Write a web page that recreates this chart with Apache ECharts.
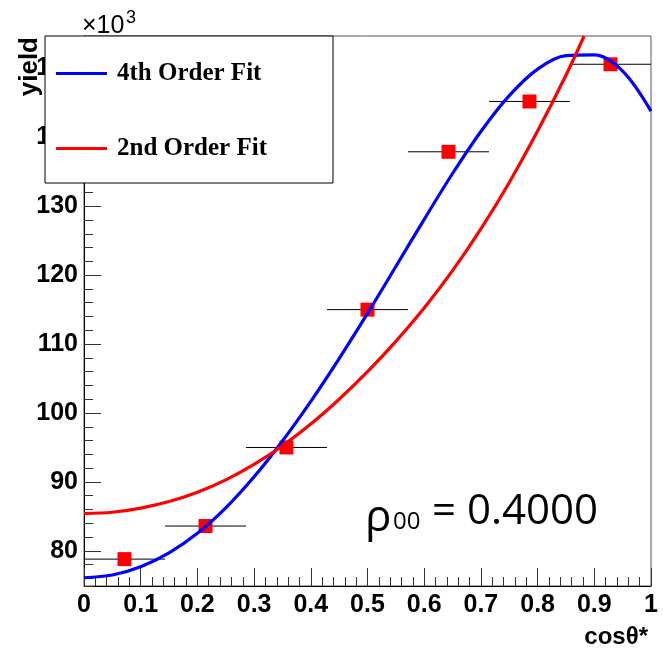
<!DOCTYPE html>
<html><head><meta charset="utf-8">
<script src="https://cdn.jsdelivr.net/npm/echarts@6/dist/echarts.min.js"></script>
<style>html,body{margin:0;padding:0;background:#fff}#c{width:663px;height:656px}</style>
</head><body><div id="c"></div>
<script>
// Data (yield in units of 10^3)
const binCenters = [0.0714, 0.2143, 0.3571, 0.5, 0.6429, 0.7857, 0.9286];
const binLow     = [0, 0.1429, 0.2857, 0.4286, 0.5714, 0.7143, 0.8571];
const binHigh    = [0.1429, 0.2857, 0.4286, 0.5714, 0.7143, 0.8571, 1.0];
const yieldValues = [78.8, 83.6, 95.0, 115.0, 137.9, 145.2, 150.6];

// Fit curves
const fit4X = [0, 0.05, 0.1, 0.15, 0.2, 0.25, 0.3, 0.35, 0.4, 0.45, 0.5, 0.55, 0.6, 0.65, 0.7, 0.75, 0.8, 0.85, 0.9, 0.95, 1.0];
const fit4Y = [76.1, 76.5, 77.7, 79.7, 82.55, 86.25, 90.75, 95.95, 101.7, 107.9, 114.45, 121.25, 128.1, 134.75, 140.85, 146.05, 149.9, 151.85, 151.95, 149.6, 143.8];

const fit2X = [0, 0.05, 0.1, 0.15, 0.2, 0.25, 0.3, 0.35, 0.4, 0.45, 0.5, 0.55, 0.6, 0.65, 0.7, 0.75, 0.8, 0.85, 0.882];
const fit2Y = [85.4, 85.6, 86.2, 87.15, 88.5, 90.3, 92.55, 95.25, 98.4, 102.0, 106.0, 110.4, 115.25, 120.65, 126.7, 133.45, 140.9, 149.0, 154.7];

const seriesNames = ['4th Order Fit', '2nd Order Fit'];
const xTitle = 'cosθ*';
const yTitle = 'yield';
const rhoValue = '0.4000';

const yMin = 74.9, yMax = 154.7;

const chart = echarts.init(document.getElementById('c'), null, {renderer: 'canvas'});
const labelFont = {fontFamily: 'Liberation Sans', fontWeight: 'bold', fontSize: 25, color: '#000'};

chart.setOption({
  animation: false,
  backgroundColor: '#fff',
  grid: {left: 84, right: 12, top: 36, bottom: 70, containLabel: false, outerBoundsMode: 'none',
         show: true, borderColor: '#555', borderWidth: 1, backgroundColor: 'transparent'},
  legend: {
    show: true, left: 45, top: 36, orient: 'vertical', data: seriesNames,
    icon: 'rect', itemWidth: 51, itemHeight: 3, itemGap: 50, padding: [25, 66, 22, 11],
    backgroundColor: '#fff', borderColor: '#000', borderWidth: 1, borderRadius: 0,
    selectedMode: false, z: 10,
    textStyle: {fontFamily: 'Liberation Serif', fontWeight: 'bold', fontSize: 25, color: '#000', padding: [0, 0, 0, 5]}
  },
  xAxis: {
    type: 'value', min: 0, max: 1, interval: 0.1,
    axisLine: {show: true, onZero: false, lineStyle: {color: '#000', width: 1}},
    axisTick: {show: true, inside: true, length: 18, lineStyle: {color: '#333'}},
    minorTick: {show: true, splitNumber: 5, length: 9, lineStyle: {color: '#333'}},
    splitLine: {show: false}, minorSplitLine: {show: false},
    axisLabel: Object.assign({margin: 7}, labelFont),
    name: xTitle, nameLocation: 'end', nameGap: -3,
    nameTextStyle: {align: 'right', verticalAlign: 'top', padding: [39, 0, 0, 0],
      fontFamily: 'Liberation Sans', fontWeight: 'bold', fontSize: 24, color: '#000'}
  },
  yAxis: [
    {
      type: 'value', position: 'left', min: yMin, max: yMax, minInterval: 10, maxInterval: 10,
      axisLine: {show: true, onZero: false, lineStyle: {color: '#000', width: 1}},
      axisTick: {show: true, inside: true, length: 17, lineStyle: {color: '#333'}},
      splitLine: {show: false},
      axisLabel: Object.assign({margin: 6, showMinLabel: false, showMaxLabel: false}, labelFont)
    },
    {
      type: 'value', position: 'left', offset: 0, min: yMin, max: yMax, minInterval: 2, maxInterval: 2, splitNumber: 40,
      axisLine: {show: false},
      axisTick: {show: true, inside: true, length: 9, lineStyle: {color: '#333'}},
      splitLine: {show: false},
      axisLabel: {show: false}
    }
  ],
  graphic: [
    {type: 'text', x: 30, y: 37, rotation: Math.PI / 2, z: 20,
     style: {text: yTitle, font: 'bold 26px "Liberation Sans"', fill: '#000', align: 'right', verticalAlign: 'middle'}},
    {type: 'text', x: 82, y: 14, z: 20,
     style: {text: '×10', font: '25px "Liberation Sans"', fill: '#000', align: 'left', verticalAlign: 'top'}},
    {type: 'text', x: 126, y: 9, z: 20,
     style: {text: '3', font: '18px "Liberation Sans"', fill: '#000', align: 'left', verticalAlign: 'top'}},
    {type: 'text', x: 365, y: 518, z: 20,
     style: {text: 'ρ', font: '44px "Open Sans"', fill: '#000', align: 'left', verticalAlign: 'middle'}},
    {type: 'text', x: 393, y: 522, z: 20,
     style: {text: '00', font: '24px "Open Sans"', fill: '#000', align: 'left', verticalAlign: 'middle'}},
    {type: 'text', x: 432, y: 512, z: 20,
     style: {text: '= ' + rhoValue, font: '42px "Open Sans"', fill: '#000', align: 'left', verticalAlign: 'middle'}}
  ],
  series: [
    {
      type: 'custom', name: 'xerr', silent: true, z: 1, yAxisIndex: 0,
      data: binCenters.map((c, i) => [binLow[i], binHigh[i], yieldValues[i]]),
      encode: {x: [0, 1], y: 2},
      renderItem: function (params, api) {
        const p1 = api.coord([api.value(0), api.value(2)]);
        const p2 = api.coord([api.value(1), api.value(2)]);
        return {type: 'line', shape: {x1: p1[0], y1: p1[1], x2: p2[0], y2: p2[1]},
                style: {stroke: '#000', lineWidth: 1}};
      }
    },
    {
      type: 'scatter', name: 'data', yAxisIndex: 0, z: 2, silent: true,
      data: binCenters.map((x, i) => [x, yieldValues[i]]),
      symbol: 'rect', symbolSize: 14, itemStyle: {color: '#ff0000', opacity: 1}
    },
    {
      type: 'line', name: seriesNames[0], yAxisIndex: 0, z: 4, silent: true,
      data: fit4X.map((x, i) => [x, fit4Y[i]]),
      smooth: 0.33, symbol: 'none', showSymbol: false,
      lineStyle: {color: '#0000ff', width: 3.2}, itemStyle: {color: '#0000ff'}
    },
    {
      type: 'line', name: seriesNames[1], yAxisIndex: 0, z: 4, silent: true,
      data: fit2X.map((x, i) => [x, fit2Y[i]]),
      smooth: 0.33, symbol: 'none', showSymbol: false,
      lineStyle: {color: '#ff0000', width: 3.2}, itemStyle: {color: '#ff0000'}
    }
  ]
});
</script>
</body></html>
